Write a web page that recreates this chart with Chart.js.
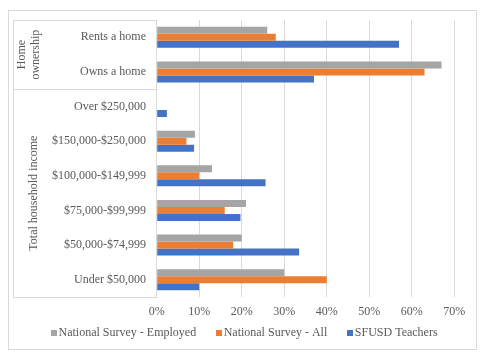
<!DOCTYPE html>
<html>
<head>
<meta charset="utf-8">
<script src="https://cdn.jsdelivr.net/npm/chart.js@4"></script>
<style>
  html, body { margin: 0; padding: 0; background: #fff; }
  #wrap { width: 485px; height: 360px; }
</style>
</head>
<body>
<div id="wrap"><canvas id="chart" width="485" height="360"></canvas></div>
<script>
const categories = ['Rents a home', 'Owns a home', 'Over $250,000', '$150,000-$250,000',
    '$100,000-$149,999', '$75,000-$99,999', '$50,000-$74,999', 'Under $50,000'];
const groupLabels = [['Home', 'ownership'], ['Total household income']];
const groupSizes = [2, 6];
const employed = [26, 67, 0, 9, 13, 21, 20, 30];
const surveyAll = [28, 63, 0, 7, 10, 16, 18, 40];
const teachers = [57, 37, 2.4, 8.8, 25.6, 19.7, 33.5, 10];
const xTicks = [0, 10, 20, 30, 40, 50, 60, 70];

const textColor = '#595959';
const lineColor = '#d9d9d9';
const fontFamily = "'Liberation Serif', serif";

Chart.defaults.font.family = fontFamily;
Chart.defaults.font.size = 12;
Chart.defaults.color = textColor;

// outer frame, multi-level category box and the legend row
const groupPlugin = {
    id: 'groups',
    beforeDraw(chart) {
        const ctx = chart.ctx;
        ctx.save();
        ctx.fillStyle = '#fff';
        ctx.fillRect(0, 0, chart.width, chart.height);
        ctx.strokeStyle = lineColor;
        ctx.lineWidth = 1;
        ctx.strokeRect(8.5, 10.5, 468, 339);
        ctx.restore();
    },
    afterDraw(chart) {
        const ctx = chart.ctx;
        const y = chart.scales.y;
        const left = 13.5;
        const right = Math.round(chart.chartArea.left) + 0.5;
        ctx.save();
        ctx.strokeStyle = lineColor;
        ctx.lineWidth = 1;
        ctx.beginPath();
        const top = Math.round(y.getPixelForValue(-0.5)) + 0.5;
        const bottom = Math.round(y.getPixelForValue(categories.length - 0.5)) + 0.5;
        ctx.moveTo(left, top);
        ctx.lineTo(left, bottom);
        let start = 0;
        ctx.moveTo(left, top);
        ctx.lineTo(right, top);
        groupSizes.forEach(n => {
            const yy = Math.round(y.getPixelForValue(start + n - 0.5)) + 0.5;
            ctx.moveTo(left, yy);
            ctx.lineTo(right, yy);
            start += n;
        });
        ctx.stroke();

        ctx.fillStyle = textColor;
        ctx.font = '12px ' + fontFamily;
        ctx.textAlign = 'center';
        ctx.textBaseline = 'middle';
        start = 0;
        groupSizes.forEach((n, i) => {
            const cy = (y.getPixelForValue(start - 0.5) + y.getPixelForValue(start + n - 0.5)) / 2;
            const lines = groupLabels[i];
            const lh = 14.5;
            const cx = lines.length > 1 ? 29 : 34;
            ctx.save();
            ctx.translate(cx, cy);
            ctx.rotate(-Math.PI / 2);
            lines.forEach((t, k) => {
                ctx.fillText(t, 0, (k - (lines.length - 1) / 2) * lh);
            });
            ctx.restore();
            start += n;
        });

        // legend
        const sets = chart.data.datasets;
        const box = 6, gap = 1.5, spacing = 20;
        const widths = sets.map(d => box + gap + ctx.measureText(d.label).width);
        const total = widths.reduce((a, b) => a + b, 0) + spacing * (sets.length - 1);
        let lx = 244.3 - total / 2;
        const ly = 333;
        ctx.textAlign = 'left';
        sets.forEach((d, i) => {
            ctx.fillStyle = d.backgroundColor;
            ctx.fillRect(Math.round(lx), ly - 3, box, box);
            ctx.fillStyle = textColor;
            ctx.fillText(d.label, lx + box + gap, ly);
            lx += widths[i] + spacing;
        });
        ctx.restore();
    }
};

new Chart(document.getElementById('chart').getContext('2d'), {
    type: 'bar',
    data: {
        labels: categories,
        datasets: [
            { label: 'National Survey - Employed', data: employed, backgroundColor: '#A5A5A5' },
            { label: 'National Survey - All', data: surveyAll, backgroundColor: '#ED7D31' },
            { label: 'SFUSD Teachers', data: teachers, backgroundColor: '#4472C4' }
        ]
    },
    options: {
        indexAxis: 'y',
        responsive: false,
        animation: false,
        devicePixelRatio: 1,
        datasets: { bar: { categoryPercentage: 0.61, barPercentage: 1 } },
        layout: { padding: { top: 20, right: 30.7, bottom: 35, left: 0 } },
        scales: {
            x: {
                min: 0,
                max: 70,
                afterBuildTicks: s => { s.ticks = xTicks.map(v => ({ value: v })); },
                afterFit: s => { s.height = 28; },
                grid: { color: lineColor, drawTicks: false },
                border: { display: false },
                ticks: {
                    padding: 8,
                    callback: v => v + '%'
                }
            },
            y: {
                afterFit: s => { s.width = 156.7; },
                grid: { display: false, drawTicks: false },
                border: { display: true, color: lineColor },
                ticks: { padding: 10.7 }
            }
        },
        plugins: {
            legend: { display: false },
            tooltip: { enabled: false }
        }
    },
    plugins: [groupPlugin]
});
</script>
</body>
</html>
